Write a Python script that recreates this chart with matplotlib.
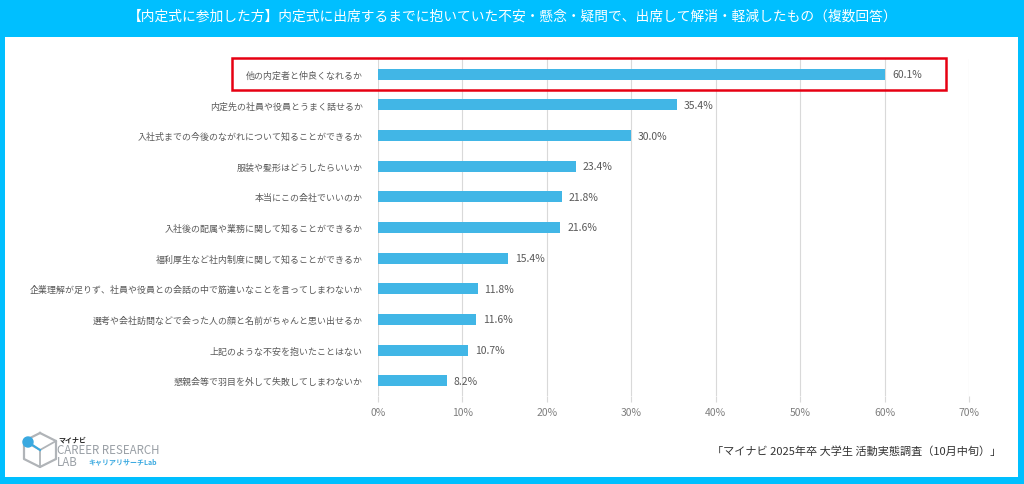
import matplotlib
matplotlib.use("Agg")
import matplotlib.pyplot as plt
from matplotlib.patches import Rectangle, Circle
from matplotlib.transforms import blended_transform_factory

plt.rcParams['font.family'] = ['Noto Sans CJK JP', 'DejaVu Sans']

title = "【内定式に参加した方】内定式に出席するまでに抱いていた不安・懸念・疑問で、出席して解消・軽減したもの（複数回答）"
categories = [
    "他の内定者と仲良くなれるか",
    "内定先の社員や役員とうまく話せるか",
    "入社式までの今後のながれについて知ることができるか",
    "服装や髪形はどうしたらいいか",
    "本当にこの会社でいいのか",
    "入社後の配属や業務に関して知ることができるか",
    "福利厚生など社内制度に関して知ることができるか",
    "企業理解が足りず、社員や役員との会話の中で筋違いなことを言ってしまわないか",
    "選考や会社訪問などで会った人の顔と名前がちゃんと思い出せるか",
    "上記のような不安を抱いたことはない",
    "懇親会等で羽目を外して失敗してしまわないか",
]
values = [60.1, 35.4, 30.0, 23.4, 21.8, 21.6, 15.4, 11.8, 11.6, 10.7, 8.2]
xticks = [0, 10, 20, 30, 40, 50, 60, 70]
source = "「マイナビ 2025年卒 大学生 活動実態調査（10月中旬）」"

W, H = 1024, 485
BLUE = "#00BFFF"
BAR = "#41B6E6"
GRAY = "#595959"

fig = plt.figure(figsize=(W / 100, H / 100), dpi=100)
fig.patch.set_facecolor(BLUE)

def fx(px):
    return px / W

def fy(py):
    return 1 - py / H

# white panel
fig.add_artist(Rectangle((fx(5), fy(478)), fx(1018) - fx(5), fy(38) - fy(478),
                         transform=fig.transFigure, facecolor="white", edgecolor="none", zorder=0))

fig.text(fx(513), fy(17), title, ha="center", va="center", color="white", fontsize=9.9)

ax = fig.add_axes([fx(378), fy(397), fx(969) - fx(378), fy(60) - fy(397)])
ax.set_facecolor("none")
ypos = list(range(len(categories)))
ax.barh(ypos, values, height=0.36, color=BAR, zorder=3)
ax.set_ylim(len(categories) - 0.5, -0.5)
ax.set_xlim(0, 70)
ax.set_xticks(xticks)
ax.set_xticklabels([f"{t}%" for t in xticks], color="#7f7f7f", fontsize=7.5)
ax.set_yticks(ypos)
ax.set_yticklabels(categories, color=GRAY, fontsize=6.45)
ax.tick_params(axis="y", length=0, pad=11)
ax.tick_params(axis="x", length=4, color="#d9d9d9", pad=4)
for s in ax.spines.values():
    s.set_visible(False)
ax.grid(axis="x", color="#d9d9d9", linewidth=0.8, zorder=0)
for y, v in zip(ypos, values):
    ax.text(v + 0.8, y, f"{v:.1f}%", va="center", ha="left", color=GRAY, fontsize=7.5)

# red highlight box around first item
tr = blended_transform_factory(fig.transFigure, ax.transData)
ax.add_patch(Rectangle((fx(232), -0.52), fx(946) - fx(232), 1.04, transform=tr,
                       fill=False, edgecolor="#E60012", linewidth=1.8, clip_on=False, zorder=5))

# source
fig.text(fx(1001), fy(452), source, ha="right", va="center", color="#333333", fontsize=8)

# logo
la = fig.add_axes([fx(20), fy(470), fx(60) - fx(20), fy(432) - fy(470)])
la.set_xlim(0, 40)
la.set_ylim(0, 38)
la.axis("off")
hx = [20, 36, 36, 20, 4, 4, 20]
hy = [36, 28, 10, 2, 10, 28, 36]
la.plot(hx, hy, color="#b0b4b8", lw=1.6)
la.plot([20, 20, 36], [2, 19, 28], color="#b0b4b8", lw=1.3)
la.plot([20, 4], [19, 28], color="#b0b4b8", lw=1.3)
la.add_patch(Circle((8, 27), 5, color="#3AA9E0", zorder=5))
la.plot([8, 20], [27, 19], color="#3AA9E0", lw=1.5)
fig.text(fx(58), fy(440), "マイナビ", fontsize=5, fontweight="bold", color="#222222", va="center")
fig.text(fx(57), fy(451), "CAREER RESEARCH", fontsize=8.3, color="#9aa0a6", va="center")
fig.text(fx(57), fy(463), "LAB", fontsize=8.3, color="#9aa0a6", va="center")
fig.text(fx(88), fy(462), "キャリアリサーチLab", fontsize=5, color="#3AA9E0", fontweight="bold", va="center")

fig.savefig("out.png", dpi=100, facecolor=fig.get_facecolor())
